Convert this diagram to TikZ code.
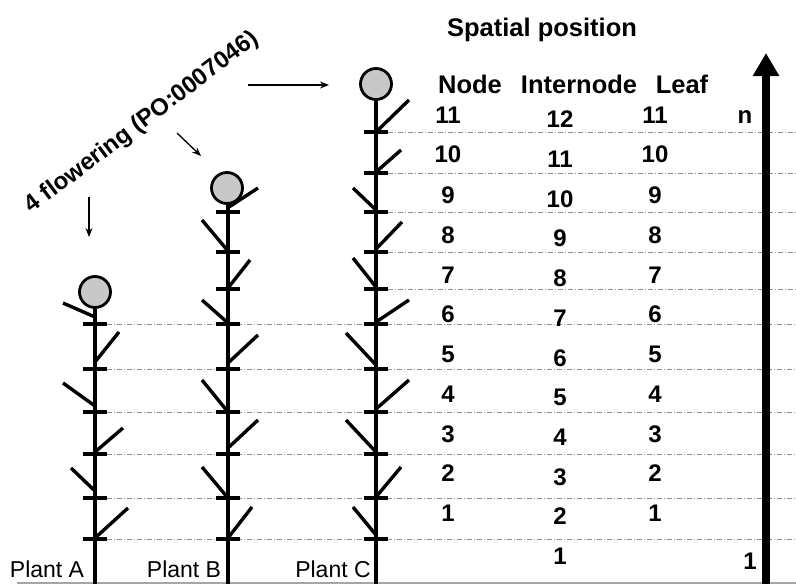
\documentclass[tikz,border=0pt]{standalone}
\usepackage{fontspec}
\setmainfont{Liberation Sans}
\usetikzlibrary{arrows.meta}
\definecolor{budgray}{RGB}{200,200,200}
\definecolor{guidegray}{RGB}{140,140,140}
\begin{document}
\begin{tikzpicture}[x=1pt,y=-1pt,
  stem/.style={line width=3.4pt},
  leaf/.style={line width=3.4pt},
  tick/.style={line width=4pt},
  bud/.style={circle,draw,line width=2.8pt,fill=budgray,minimum size=31pt,inner sep=0pt},
  guide/.style={guidegray,line width=0.8pt,dash pattern=on 5pt off 2pt on 1pt off 2pt},
  num/.style={font=\fontsize{24}{24}\selectfont\bfseries,inner sep=0pt,anchor=center},
  head/.style={font=\fontsize{25.5}{25.5}\selectfont\bfseries,inner sep=0pt,anchor=base},
  plantlbl/.style={font=\fontsize{23}{23}\selectfont,inner sep=0pt,anchor=center},
  pointer/.style={line width=1.3pt,-{Stealth[length=9pt,width=7pt]}}]
\useasboundingbox (0,0) rectangle (796,584);

% ground line
\coordinate (g0) at (17,583);
\coordinate (g1) at (796,583);
\draw[black!35,line width=1.2pt] (g0) -- (g1);

% guide lines at node levels
\foreach \y in {324,369,412,454,498,539} \draw[guide] (107,\y) -- (796,\y);
\foreach \y in {132,173,212,252,289} \draw[guide] (388,\y) -- (796,\y);

% plant A
\node[bud] (budA) at (95,292) {};
\coordinate (baseA) at (95,584);
\draw[stem] (budA.south) -- (baseA);
\foreach \y in {324,369,412,454,498,539} \draw[tick] (83,\y) -- (107,\y);
\foreach \bx/\by/\tx/\ty in {95/538/128/508, 95/491/71/468, 95/452/123/428,
  95/406/63/383, 95/362/119/332, 95/317/63/303}
  \draw[leaf] (\bx,\by) -- (\tx,\ty);

% plant B
\node[bud] (budB) at (227,188) {};
\coordinate (baseB) at (228,584);
\draw[stem] (228,204) -- (baseB);
\foreach \y in {212,252,289,324,369,412,454,498,539} \draw[tick] (216,\y) -- (240,\y);
\foreach \bx/\by/\tx/\ty in {228/538/252/507, 228/498/202/467, 228/448/258/420,
  228/412/202/380, 228/363/258/335, 228/323/202/300, 228/288/250/260,
  228/251/202/220, 229/207/258/188}
  \draw[leaf] (\bx,\by) -- (\tx,\ty);

% plant C
\node[bud] (budC) at (376,84) {};
\coordinate (baseC) at (376,584);
\draw[stem] (budC.south) -- (baseC);
\foreach \y in {132,173,212,252,289,324,369,412,454,498,539} \draw[tick] (364,\y) -- (388,\y);
\foreach \bx/\by/\tx/\ty in {376/535/353/507, 376/497/401/467, 376/452/346/420,
  376/409/409/380, 376/365/346/333, 376/322/409/300, 376/287/353/258,
  376/249/402/222, 376/210/353/188, 376/172/401/150, 376/132/409/100}
  \draw[leaf] (\bx,\by) -- (\tx,\ty);

% plant labels
\node[plantlbl] (labA) at (47,569) {Plant A};
\node[plantlbl] (labB) at (184,569) {Plant B};
\node[plantlbl] (labC) at (333,569) {Plant C};

% flowering stage label and pointers
\node[font=\fontsize{24}{24}\selectfont\bfseries,rotate=37,inner sep=0pt] (flw) at (142,123) {4 flowering (PO:0007046)};
\coordinate (pA0) at (89,197);
\coordinate (pA1) at (89,237);
\coordinate (pB0) at (177,133);
\coordinate (pB1) at (201,156);
\coordinate (pC0) at (248,85);
\coordinate (pC1) at (329,85);
\draw[pointer] (pA0) -- (pA1);
\draw[pointer] (pB0) -- (pB1);
\draw[pointer] (pC0) -- (pC1);

% table headers
\node[head] (title) at (542,36) {Spatial position};
\node[head] (hNode) at (470,93) {Node};
\node[head] (hInter) at (579,93) {Internode};
\node[head] (hLeaf) at (682,93) {Leaf};

% node and leaf numbers
\foreach \n/\y in {11/115,10/154,9/195,8/235,7/275,6/314,5/354,4/394,3/434,2/473,1/513} {
  \node[num] (nd\n) at (448,\y) {\n};
  \node[num] (lf\n) at (655,\y) {\n};
}
% internode numbers
\foreach \n/\y in {12/119,11/159,10/199,9/238,8/278,7/318,6/358,5/397,4/437,3/477,2/516,1/556}
  \node[num] (in\n) at (560,\y) {\n};

% position axis
\coordinate (axB) at (766,584);
\coordinate (axT) at (766,53);
\draw[line width=8pt,-{Triangle[length=23pt,width=25pt]}] (axB) -- (axT);
\node[num] (axN) at (745,117) {n};
\node[num] (ax1) at (750,561) {1};
\end{tikzpicture}
\end{document}
